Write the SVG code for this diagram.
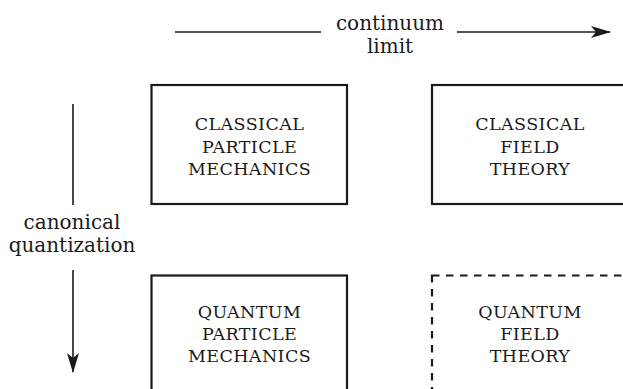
<svg xmlns="http://www.w3.org/2000/svg" width="623" height="389" viewBox="0 0 623 389">
<defs>
<marker id="ah" viewBox="0 0 20 12" refX="19" refY="6" markerWidth="20" markerHeight="12" markerUnits="userSpaceOnUse" orient="auto">
<path d="M0,0 L20,6 L0,12 L5,6 Z" fill="#1a1a1a"/>
</marker>
<style>
.box{fill:#fff;stroke:#1a1a1a;stroke-width:2.2}
.dash{stroke-dasharray:7.5,6.5}
.cap{font-family:'DejaVu Serif',serif;font-size:17.5px;fill:#1a1a1a;text-anchor:middle;letter-spacing:0.4px}
.lbl{font-family:'DejaVu Serif',serif;font-size:20px;fill:#1a1a1a;text-anchor:middle}
.ln{stroke:#1a1a1a;stroke-width:1.6;fill:none}
</style>
</defs>
<rect width="623" height="389" fill="#fff"/>
<g id="connectors">
<line class="ln" x1="175" y1="32" x2="321" y2="32"/>
<line class="ln" x1="457" y1="32" x2="610" y2="32" marker-end="url(#ah)"/>
<text class="lbl" x="390" y="30">continuum</text>
<text class="lbl" x="390" y="53">limit</text>
<line class="ln" x1="73" y1="104" x2="73" y2="205"/>
<line class="ln" x1="73" y1="270" x2="73" y2="372" marker-end="url(#ah)"/>
<text class="lbl" x="72" y="229">canonical</text>
<text class="lbl" x="72" y="252">quantization</text>
</g>
<g id="cpm">
<rect class="box" x="151.5" y="85" width="195.5" height="119"/>
<text class="cap" x="249.5" y="130">CLASSICAL</text>
<text class="cap" x="249.5" y="152.5">PARTICLE</text>
<text class="cap" x="249.5" y="175">MECHANICS</text>
</g>
<g id="cft">
<rect class="box" x="432" y="85" width="195.5" height="119"/>
<text class="cap" x="530" y="130">CLASSICAL</text>
<text class="cap" x="530" y="152.5">FIELD</text>
<text class="cap" x="530" y="175">THEORY</text>
</g>
<g id="qpm">
<rect class="box" x="151.5" y="275.5" width="195.5" height="130"/>
<text class="cap" x="249.5" y="318">QUANTUM</text>
<text class="cap" x="249.5" y="340">PARTICLE</text>
<text class="cap" x="249.5" y="362">MECHANICS</text>
</g>
<g id="qft">
<rect class="box dash" x="432" y="275.5" width="195.5" height="130"/>
<text class="cap" x="530" y="318">QUANTUM</text>
<text class="cap" x="530" y="340">FIELD</text>
<text class="cap" x="530" y="362">THEORY</text>
</g>
</svg>
